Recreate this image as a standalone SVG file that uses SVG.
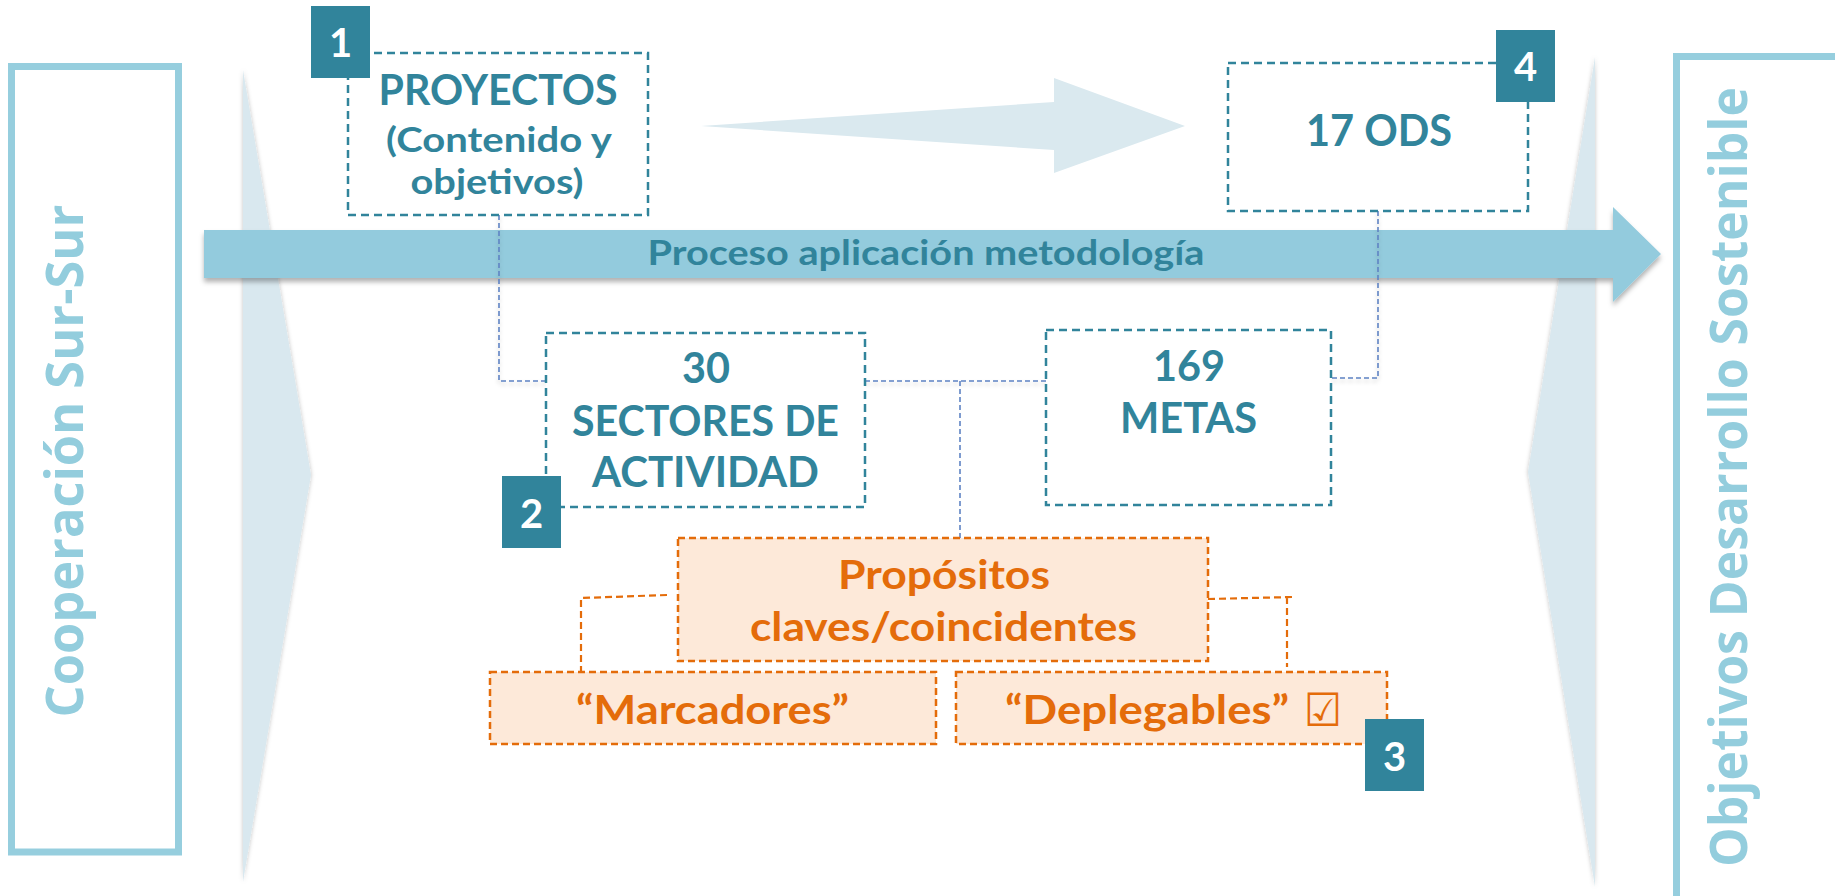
<svg xmlns="http://www.w3.org/2000/svg" width="1835" height="896" viewBox="0 0 1835 896">
<defs>
<style>
.t{font-family:Lato,"Open Sans","Liberation Sans",sans-serif;font-weight:700;fill:#31849B;text-anchor:middle}
.o{fill:#E46C0A}
.side{font-family:"Open Sans","Noto Sans","Liberation Sans",sans-serif;font-weight:700;fill:#93CDDD;font-size:52px;text-anchor:middle}
.box{fill:#fff;stroke:#31849B;stroke-width:2.5;stroke-dasharray:8 5}
.obox{fill:#FDE9D9;stroke:#E46C0A;stroke-width:2.5;stroke-dasharray:7 4}
.badge{fill:#31849B}
.bt{font-family:Lato,"Open Sans","Liberation Sans",sans-serif;font-weight:700;fill:#fff;font-size:40px;text-anchor:middle}
.conn{fill:none;stroke:#5E83C4;stroke-width:1.6;stroke-dasharray:5 3}
.oconn{fill:none;stroke:#E46C0A;stroke-width:2.2;stroke-dasharray:7 4}
.frame{fill:none;stroke:#96CEDE;stroke-width:7}
.chev{fill:#D9E8EF}
</style>
<filter id="sh" x="-5%" y="-30%" width="110%" height="170%"><feDropShadow dx="0" dy="4" stdDeviation="2.5" flood-color="#000" flood-opacity="0.3"/></filter>
<filter id="sh2" x="-20%" y="-5%" width="140%" height="110%"><feDropShadow dx="0" dy="0" stdDeviation="2" flood-color="#000" flood-opacity="0.25"/></filter>
<filter id="sh3" filterUnits="userSpaceOnUse" x="0" y="0" width="1835" height="896"><feDropShadow dx="0" dy="3" stdDeviation="2" flood-color="#000" flood-opacity="0.2"/></filter>
</defs>
<rect width="1835" height="896" fill="#fff"/>

<g id="background">
<polygon class="chev" filter="url(#sh2)" points="243,70 311,475 243,882"/>
<polygon class="chev" filter="url(#sh2)" points="1595,57 1528,472 1595,887"/>
<polygon fill="#DAE9EF" points="701,126 1054,102 1054,78 1185,126 1054,173 1054,150"/>
</g>

<g id="cooperacion">
<rect class="frame" x="11.5" y="66.5" width="167" height="785.5"/>
<text class="side" transform="translate(83,461) rotate(-90)" textLength="513" lengthAdjust="spacingAndGlyphs">Cooperación Sur-Sur</text>
</g>

<g id="ods-frame">
<rect class="frame" x="1676.5" y="56.5" width="220" height="900"/>
<text class="side" transform="translate(1747,477) rotate(-90)" textLength="780" lengthAdjust="spacingAndGlyphs">Objetivos Desarrollo Sostenible</text>
</g>

<g id="proceso">
<polygon fill="#93CBDD" filter="url(#sh)" points="204,230 1613,230 1613,207 1661,254 1613,302 1613,278 204,278"/>
<text class="t" x="926" y="265" font-size="34" textLength="557" lengthAdjust="spacingAndGlyphs">Proceso aplicación metodología</text>
</g>

<g id="connectors">
<path class="conn" filter="url(#sh3)" d="M499,215 V381 H546"/>
<path class="conn" filter="url(#sh3)" d="M1378,211 V378 H1331"/>
<path class="conn" filter="url(#sh3)" d="M865,381 H1046"/>
<path class="conn" d="M960,381 V538"/>
<path class="oconn" d="M667,595 L581,598 V671"/>
<path class="oconn" d="M1208,599 L1293,597 M1287,597 V667"/>
</g>

<g id="proyectos">
<rect class="box" x="348" y="53" width="300" height="162"/>
<text class="t" x="498" y="105" font-size="42" textLength="239" lengthAdjust="spacingAndGlyphs">PROYECTOS</text>
<text class="t" x="499" y="152" font-size="35" textLength="226" lengthAdjust="spacingAndGlyphs">(Contenido y</text>
<text class="t" x="497" y="194" font-size="35" textLength="173" lengthAdjust="spacingAndGlyphs">objetivos)</text>
</g>
<g id="badge1">
<rect class="badge" x="311" y="6" width="59" height="72"/>
<text class="bt" x="340.5" y="57">1</text>
</g>

<g id="ods">
<rect class="box" x="1228" y="63" width="300" height="148"/>
<text class="t" x="1379" y="146" font-size="43" textLength="146" lengthAdjust="spacingAndGlyphs">17 ODS</text>
</g>
<g id="badge4">
<rect class="badge" x="1496" y="30" width="59" height="72"/>
<text class="bt" x="1525.5" y="81">4</text>
</g>

<g id="sectores">
<rect class="box" x="546" y="333" width="319" height="174"/>
<text class="t" x="706" y="383" font-size="42" textLength="48" lengthAdjust="spacingAndGlyphs">30</text>
<text class="t" x="705.5" y="436" font-size="42" textLength="267" lengthAdjust="spacingAndGlyphs">SECTORES DE</text>
<text class="t" x="705.5" y="487" font-size="42" textLength="227" lengthAdjust="spacingAndGlyphs">ACTIVIDAD</text>
</g>
<g id="badge2">
<rect class="badge" x="502" y="476" width="59" height="72"/>
<text class="bt" x="531.5" y="528">2</text>
</g>

<g id="metas">
<rect class="box" x="1046" y="330" width="285" height="175"/>
<text class="t" x="1189" y="381" font-size="42" textLength="72" lengthAdjust="spacingAndGlyphs">169</text>
<text class="t" x="1188.5" y="433" font-size="42" textLength="137" lengthAdjust="spacingAndGlyphs">METAS</text>
</g>

<g id="propositos">
<rect class="obox" x="678" y="538" width="530" height="123"/>
<text class="t o" x="944" y="589" font-size="40" textLength="212" lengthAdjust="spacingAndGlyphs">Propósitos</text>
<text class="t o" x="943.5" y="641" font-size="40" textLength="387" lengthAdjust="spacingAndGlyphs">claves/coincidentes</text>
</g>

<g id="marcadores">
<rect class="obox" x="490" y="672" width="446" height="72"/>
<text class="t o" x="712.5" y="724" font-size="40" textLength="273" lengthAdjust="spacingAndGlyphs">“Marcadores”</text>
</g>

<g id="deplegables">
<rect class="obox" x="956" y="672" width="431" height="72"/>
<text class="t o" x="1147" y="724" font-size="40" textLength="284" lengthAdjust="spacingAndGlyphs">“Deplegables”</text>
<text x="1304" y="726" font-family="'DejaVu Sans',sans-serif" font-weight="700" font-size="46" fill="#E46C0A" textLength="38" lengthAdjust="spacingAndGlyphs">☑</text>
</g>
<g id="badge3">
<rect class="badge" x="1365" y="719" width="59" height="72"/>
<text class="bt" x="1394.5" y="771">3</text>
</g>
</svg>
